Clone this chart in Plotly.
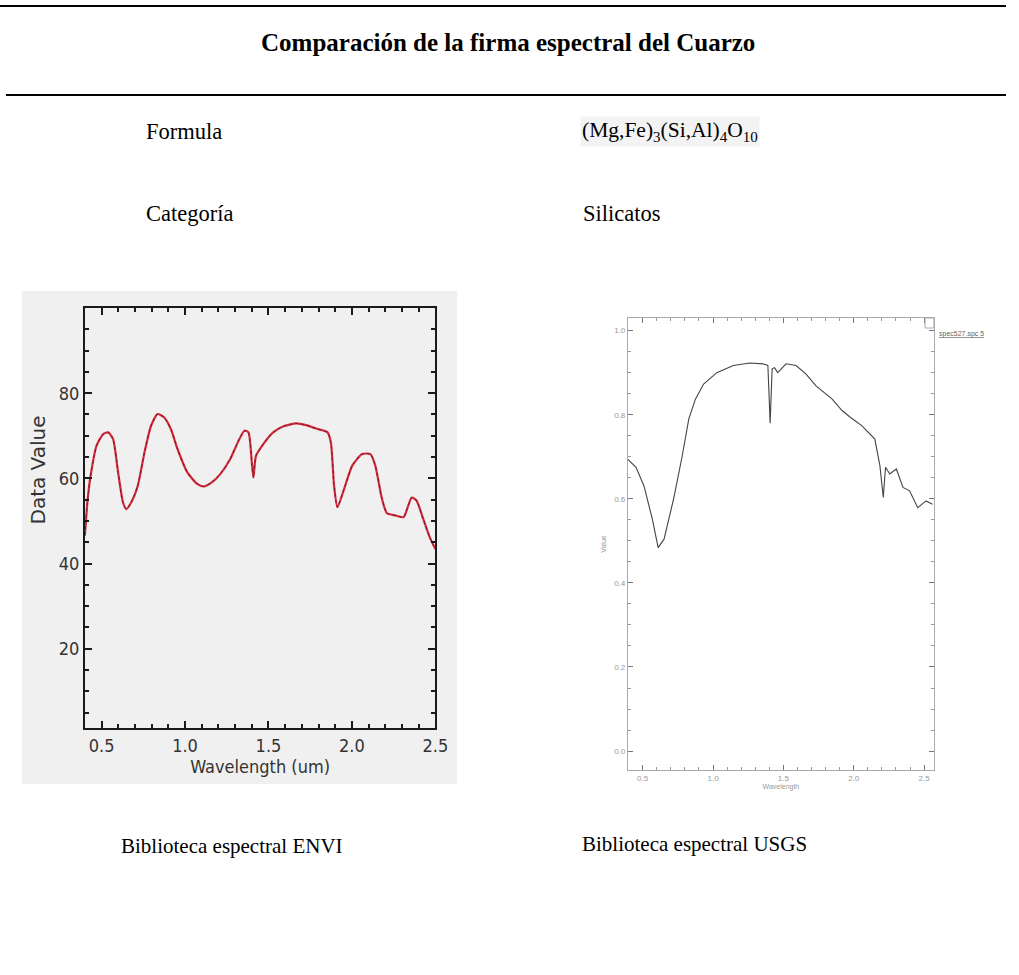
import plotly.graph_objects as go

# ---- data: ENVI library (left) ----
envi_wl = [0.40, 0.415, 0.431, 0.47, 0.51, 0.54, 0.569, 0.599, 0.628, 0.648, 0.678, 0.717,
           0.757, 0.796, 0.836, 0.875, 0.915, 0.955, 1.014, 1.073, 1.113, 1.162, 1.211,
           1.27, 1.32, 1.356, 1.38, 1.40, 1.41, 1.425, 1.468, 1.528, 1.587, 1.666, 1.725,
           1.785, 1.854, 1.874, 1.893, 1.913, 1.953, 2.002, 2.061, 2.111, 2.14, 2.18, 2.21,
           2.26, 2.31, 2.334, 2.358, 2.387, 2.427, 2.466, 2.50]
envi_val = [46.6, 54.4, 59.8, 67.7, 70.4, 70.8, 69.2, 61.4, 54.4, 52.8, 54.4, 58.3,
            66.1, 72.3, 75.1, 74.3, 71.6, 66.9, 61.4, 58.7, 58.1, 59.1, 61.0,
            64.5, 68.8, 71.2, 70.8, 63.8, 60.2, 65.3, 68.0, 70.8, 72.2, 72.9, 72.5,
            71.7, 70.8, 68.4, 58.3, 53.2, 57.5, 63.0, 65.7, 65.7, 63.0, 55.2, 51.8,
            51.3, 50.9, 53.2, 55.5, 54.8, 50.5, 46.2, 43.4]

# ---- data: USGS library (right) ----
usgs_wl = [0.395, 0.453, 0.51, 0.57, 0.61, 0.652, 0.72, 0.78, 0.828, 0.875, 0.933, 1.027,
           1.144, 1.26, 1.355, 1.39, 1.406, 1.42, 1.437, 1.46, 1.519, 1.59, 1.66, 1.73,
           1.847, 1.917, 1.975, 2.057, 2.15, 2.186, 2.21, 2.226, 2.256, 2.303, 2.35,
           2.397, 2.455, 2.514, 2.56]
usgs_val = [0.694, 0.675, 0.63, 0.55, 0.484, 0.504, 0.60, 0.70, 0.79, 0.837, 0.873, 0.90,
            0.917, 0.923, 0.921, 0.917, 0.78, 0.909, 0.912, 0.90, 0.921, 0.917, 0.897, 0.869,
            0.837, 0.81, 0.794, 0.774, 0.742, 0.679, 0.603, 0.675, 0.659, 0.671, 0.627,
            0.619, 0.579, 0.595, 0.587]

x_ticks = [0.5, 1.0, 1.5, 2.0, 2.5]
envi_y_ticks = [20, 40, 60, 80]
usgs_y_ticks = [0.0, 0.2, 0.4, 0.6, 0.8, 1.0]

W, H = 1019, 975
def px(x):
    return x / W
def py(y):
    return 1 - y / H

fig = go.Figure()

fig.add_trace(go.Scatter(x=envi_wl, y=envi_val, mode="lines", xaxis="x", yaxis="y",
                         line=dict(color="#d42a3c", width=2.2, shape="spline", smoothing=0.6),
                         showlegend=False, hoverinfo="skip"))
fig.add_trace(go.Scatter(x=envi_wl, y=envi_val, mode="lines", xaxis="x", yaxis="y",
                         line=dict(color="#5a1c22", width=0.8, shape="spline", smoothing=0.6, dash="dot"),
                         showlegend=False, hoverinfo="skip"))
fig.add_trace(go.Scatter(x=usgs_wl, y=usgs_val, mode="lines", xaxis="x2", yaxis="y2",
                         line=dict(color="#444444", width=1.1),
                         showlegend=False, hoverinfo="skip"))

cond = "Liberation Sans Narrow, DejaVu Sans Condensed, DejaVu Sans"
left_ax = dict(showline=True, linecolor="#1a1a1a", linewidth=2, mirror="ticks",
               ticks="inside", ticklen=7, tickwidth=1.5, tickcolor="#1a1a1a",
               showgrid=False, zeroline=False,
               tickfont=dict(family=cond, size=18, color="#333333"))
fig.update_layout(
    xaxis=dict(domain=[px(86), px(441)], anchor="y", range=[0.4, 2.5],
               tickvals=x_ticks, tickformat=".1f",
               minor=dict(dtick=0.1, ticklen=4, tickcolor="#1a1a1a", ticks="inside"),
               title=dict(text="Wavelength (um)", font=dict(family=cond, size=18, color="#333333"), standoff=4),
               **left_ax),
    yaxis=dict(domain=[py(728), py(308)], anchor="x", range=[1.4, 100],
               tickvals=envi_y_ticks,
               minor=dict(dtick=5, ticklen=4, tickcolor="#1a1a1a", ticks="inside"),
               **left_ax),
    xaxis2=dict(domain=[px(636), px(946)], anchor="y2", range=[0.395, 2.57],
                tickvals=x_ticks, tickformat=".1f",
                showline=True, linecolor="#aaaaaa", linewidth=1, mirror="ticks",
                ticks="inside", ticklen=5, tickcolor="#777777", showgrid=False, zeroline=False,
                minor=dict(dtick=0.1, ticklen=3, tickcolor="#999999", ticks="inside"),
                tickfont=dict(family="Liberation Sans", size=8, color="#999999"),
                title=dict(text="Wavelength", font=dict(family="Liberation Sans", size=7, color="#999999"), standoff=2)),
    yaxis2=dict(domain=[py(770), py(318)], anchor="x2", range=[-0.045, 1.03],
                tickvals=usgs_y_ticks, tickformat=".1f",
                showline=True, linecolor="#aaaaaa", linewidth=1, mirror="ticks",
                ticks="inside", ticklen=5, tickcolor="#777777", showgrid=False, zeroline=False,
                minor=dict(dtick=0.05, ticklen=3, tickcolor="#999999", ticks="inside"),
                tickfont=dict(family="Liberation Sans", size=8, color="#999999"),
                title=dict(text="Value", font=dict(family="Liberation Sans", size=7, color="#999999"), standoff=6)),
    width=W, height=H, margin=dict(l=0, r=0, t=0, b=0),
    paper_bgcolor="white", plot_bgcolor="rgba(0,0,0,0)",
)

# grey panel behind left chart, rules and small box
fig.add_shape(type="rect", xref="paper", yref="paper", x0=px(22), x1=px(463), y0=py(784), y1=py(291),
              fillcolor="#f0f0f0", line=dict(width=0), layer="below")
fig.add_shape(type="line", xref="paper", yref="paper", x0=0, x1=1, y0=py(6), y1=py(6),
              line=dict(color="black", width=2))
fig.add_shape(type="line", xref="paper", yref="paper", x0=px(6), x1=1, y0=py(95), y1=py(95),
              line=dict(color="black", width=2))
fig.add_shape(type="rect", xref="paper", yref="paper", x0=px(937), x1=px(946), y0=py(328), y1=py(318),
              line=dict(color="#aaaaaa", width=1))

# left y-axis title
fig.add_annotation(x=px(38), y=py(470), xref="paper", yref="paper", text="Data Value", textangle=-90,
                   showarrow=False, xanchor="center", yanchor="middle",
                   font=dict(family="DejaVu Sans", size=20, color="#333333"))

serif = "Liberation Serif, Times New Roman, serif"
def txt(x, y, s, size=21, bold=False, xanchor="left", bg=None):
    fig.add_annotation(x=px(x), y=py(y), xref="paper", yref="paper", text=(f"<b>{s}</b>" if bold else s),
                       showarrow=False, xanchor=xanchor, yanchor="middle",
                       font=dict(family=serif, size=size, color="black"),
                       bgcolor=bg, borderpad=1)

txt(515, 43, "Comparación de la firma espectral del Cuarzo", size=25, bold=True, xanchor="center")
txt(146, 131, "Formula", size=22.5)
txt(588, 131, "(Mg,Fe)<sub>3</sub>(Si,Al)<sub>4</sub>O<sub>10</sub>", size=21.5, bg="#f3f3f3")
txt(146, 213, "Categoría", size=22.5)
txt(589, 213, "Silicatos", size=22.5)
txt(121, 846, "Biblioteca espectral ENVI", size=21)
txt(587, 844, "Biblioteca espectral USGS", size=21)

fig.add_annotation(x=px(949), y=py(334), xref="paper", yref="paper", text="<u>spec527.spc 5</u>",
                   showarrow=False, xanchor="left", yanchor="middle",
                   font=dict(family="Liberation Sans", size=7, color="#666666"))

fig.write_html("out.html")
